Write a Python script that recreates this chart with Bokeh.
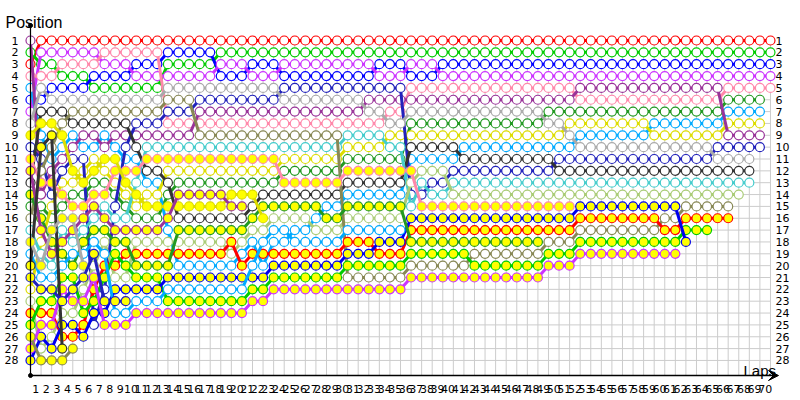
from bokeh.plotting import figure
from bokeh.models import Range1d, ColumnDataSource, Arrow, VeeHead
from bokeh.core.properties import value
from bokeh.embed import file_html
from bokeh.resources import INLINE

# ---------------- data ----------------
# drivers: some drawn with white markers, the rest with yellow-filled markers
DRIVERS = list("ABCDEFGHIJKLMNO") + list("abcdefghijklm")
COLORS = {
    "A": "#ff0000", "B": "#00cc00", "C": "#0000ff", "D": "#cc33ff", "E": "#ff88aa",
    "F": "#229922", "G": "#00aaff", "H": "#dddd00", "I": "#993399", "J": "#2222bb",
    "K": "#aaaaaa", "L": "#333333", "M": "#44cccc", "N": "#aacc77", "O": "#888855",
    "a": "#ff0000", "b": "#00cc00", "c": "#0000ee", "d": "#cc33ff", "e": "#ff88aa",
    "f": "#229922", "g": "#dddd00", "h": "#993399", "i": "#00aaff", "j": "#333333",
    "k": "#aaaaaa", "l": "#2222bb", "m": "#888855",
}
YELLOW_FILLED = list("abcdefghjklm")

# running order (position 1 first) from the given lap until the next listed lap
ORDER = {
    0: "I B A E G C D K g J e h L f F O M k i j l H N a b m d c",
    1: "A D B E K C L g G j J O e I F f h H M k i l b a d c N m",
    2: "A D B E C K L g j O G I e J H F k f h M i l b a d N c m",
    3: "A D E B C K L O g G I J H e F k M h f i b d l N c a j m",
    4: "A D E B C K O L G I J g H F e k h M i f b l d N c a m",
    5: "A D E B C K O L I G J H g F e h M f i k l N d b a c",
    6: "A D E C B K O L I G H g F e h M f i l N d a b c J",
    7: "A E D C B K O L G I g H F e M h f N i a b J l c d",
    8: "A E D C B K O L I G g e H F J M h f b a N c l i d",
    9: "A E D C B K O L I J G e g H F M h f a b N c l i d",
    10: "A E C D B K O J I L G e M g H F h N a f b c i d",
    11: "A E C D B K O J I M e L G H g F h N a f b c i d",
    13: "A C B D K O J E I M e H L F g h G N a f c i b d",
    14: "A C B D K O J E I M e H F h g L f N a G c i b d",
    16: "A C B D K J I E O M e H F h g L f N a G c i b d",
    18: "A B D C K J I E O M e H F h g L f N a G c i b d",
    19: "A B D C K J I E O M e H F g h L f a N G c i b d",
    20: "A B D C K J I E O M e H F g h L f N G a c i b d",
    21: "A B C D K J I E O M e H F g L f N G a i c b d",
    22: "A B C D K J I E O M e H F L f g N i a G c b d",
    23: "A B C D K J I E O M e H F L f N i G a c b d",
    24: "A B D C J K I E O M H F e L f N i G a c b d",
    25: "A B D C J K I E O M H F e L f N G i a c b d",
    27: "A B D C J K I E O M H F e L f G N i a c b d",
    28: "A B D C J K I E O M H F e L G f N i a c b d",
    30: "A B D C J K I E M H F e L G f N i a c b O d",
    32: "A B D C J I K E M H F e L G f N i a c b O d",
    33: "A B C D J I K E M H F e L G f N i c a b O d",
    34: "A B C D J I E K H M F e L G f N i c a b O d",
    36: "A B D C E I K F H L G e N J M c a f b O d",
    37: "A B D C E I K F H L G N M J e c a f b O d",
    38: "A B D C E I K F H L G N J M e c a f b O d",
    39: "A B C D E I K F H L G N J M e c a f b O d",
    40: "A B C D E I K F H L G J M N e c a f b O d",
    41: "A B C D E I K F H G L J M N e c a f b O d",
    42: "A B C D E I K F H G L J M N e c a f O b d",
    49: "A B C D E I F K H G L J M N e c a O b d",
    50: "A B C D E I F K H G J L M N e c a O b d",
    51: "A B C D E I F H K G J L M N e c a O b d",
    52: "A B C D I E F H G K J L M N c a O b d",
    59: "A B C D I E F G H K J L M N c a O b d",
    60: "A B C D I E F G H K J L M N c O a b d",
    62: "A B C D I E F G H K J L M N O a b c",
    63: "A B C D I E F G H K J L M N O a b",
    65: "A B C D I E F G H J K L M N O a",
    66: "A B C D E F G H I J K L M N O a",
    67: "A B C D E F G H I J K L M N",
    68: "A B C D E F G H I J K L M",
    69: "A B C D E F G H I J",
    70: "A B C D E",
}
LAPS = list(range(0, 71))
LAP_LABELS = [str(k) for k in range(1, 71)]
POSITIONS = list(range(1, 29))

# ---------------- build per-driver series ----------------
keys = sorted(ORDER)
series = {d: ([], []) for d in DRIVERS}
for lap in LAPS:
    k = max(kk for kk in keys if kk <= lap)
    order = ORDER[k].split()
    if len(set(order)) != len(order):
        raise ValueError("duplicate in lap %d" % k)
    for r, d in enumerate(order, 1):
        series[d][0].append(lap)
        series[d][1].append(r)
for d in DRIVERS:
    xs = series[d][0]
    if xs != list(range(0, len(xs))):
        raise ValueError("gap for driver %s" % d)

# ---------------- figure ----------------
W, H = 800, 398
DX, X_ORIGIN = 10.571, 30.0     # px per lap, px of lap 0
DY, Y_ORIGIN = 11.85, 40.0      # px per position, px of position 1


def lx(px):
    return (px - X_ORIGIN) / DX


def ly(py):
    return 1 + (py - Y_ORIGIN) / DY


p = figure(width=W, height=H, x_range=Range1d(lx(0), lx(W)), y_range=Range1d(ly(H), ly(0)),
           output_backend="svg", toolbar_location=None, title=None,
           x_axis_location=None, y_axis_location=None, min_border=0)
p.outline_line_color = None
p.xgrid.visible = False
p.ygrid.visible = False
p.background_fill_color = "white"
p.border_fill_color = "white"

AXIS_TOP = ly(25)
AXIS_BOTTOM = ly(375)
ARROW_TIP = lx(778)
GRID = "#cccccc"

# grid
p.segment(x0=[0] * len(POSITIONS), y0=POSITIONS, x1=[LAPS[-1]] * len(POSITIONS), y1=POSITIONS,
          line_color=GRID, line_width=1)
p.segment(x0=LAPS, y0=[1] * len(LAPS), x1=LAPS, y1=[AXIS_BOTTOM] * len(LAPS),
          line_color=GRID, line_width=1)

# drivers
for d in DRIVERS:
    xs, ys = series[d]
    col = COLORS[d]
    fill = "#ffff00" if d in YELLOW_FILLED else "white"
    src = ColumnDataSource(dict(x=xs, y=ys))
    p.line("x", "y", source=src, line_color=col, line_width=3)
    p.scatter("x", "y", source=src, marker="circle", size=9, fill_color=fill,
              line_color=col, line_width=1.2)

# axes lines
p.segment(x0=[0], y0=[AXIS_TOP], x1=[0], y1=[AXIS_BOTTOM], line_color="black", line_width=1.2)
p.scatter([0, 0], [AXIS_TOP, AXIS_BOTTOM], size=4, color="black")
p.add_layout(Arrow(end=VeeHead(size=10, fill_color="black", line_color="black"),
                   x_start=0, y_start=AXIS_BOTTOM, x_end=ARROW_TIP, y_end=AXIS_BOTTOM,
                   line_color="black", line_width=1.6))

FONT = value("DejaVu Sans")
# position labels (left and right)
p.text(x=[lx(18)] * len(POSITIONS), y=POSITIONS, text=[str(v) for v in POSITIONS],
       text_font=FONT, text_font_size="11px", text_align="right", text_baseline="middle",
       text_color="black")
p.text(x=[lx(775)] * len(POSITIONS), y=POSITIONS, text=[str(v) for v in POSITIONS],
       text_font=FONT, text_font_size="11px", text_align="left", text_baseline="middle",
       text_color="black")
# lap labels, centred in each lap interval
p.text(x=[k - 0.5 for k in range(1, 71)], y=[ly(388)] * len(LAP_LABELS),
       text=LAP_LABELS, text_font=FONT, text_font_size="11px", text_align="center",
       text_baseline="middle", text_color="black")
# axis titles
p.text(x=[lx(5)], y=[ly(22)], text=["Position"],
       text_font=value("Liberation Sans"), text_font_size="16px", text_align="left",
       text_baseline="alphabetic", text_color="black")
p.text(x=[lx(743)], y=[ly(370)], text=["Laps"],
       text_font=value("Liberation Sans"), text_font_size="15px", text_align="left",
       text_baseline="alphabetic", text_color="black")

open("out.html", "w").write(file_html(p, INLINE))
